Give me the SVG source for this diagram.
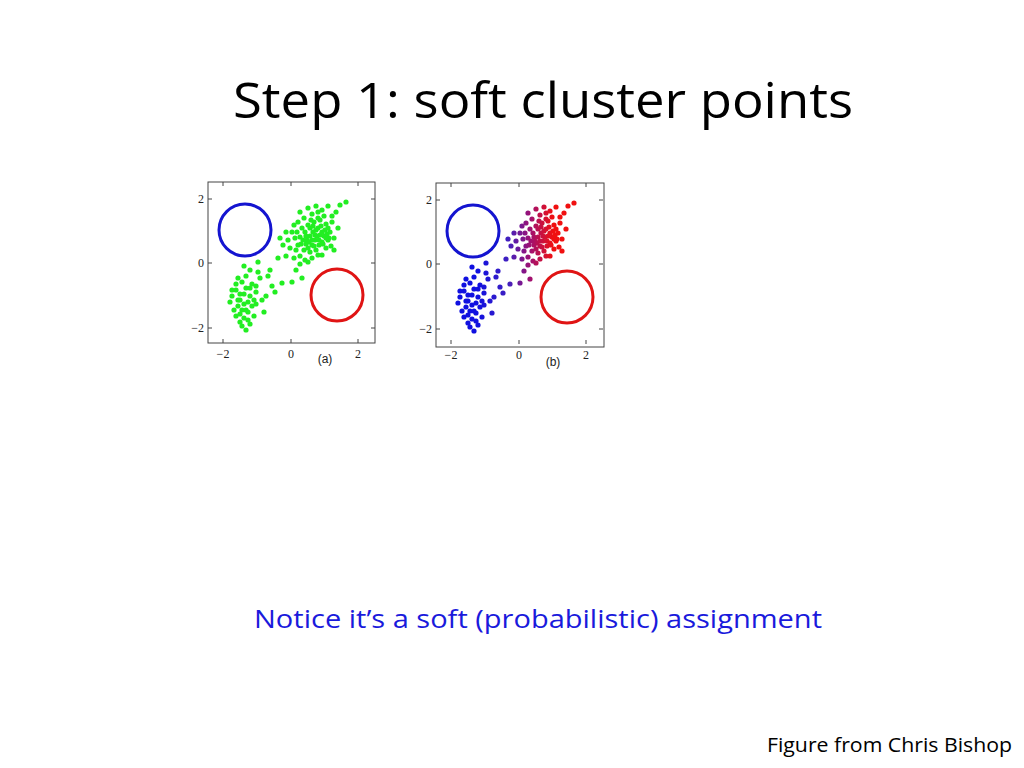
<svg xmlns="http://www.w3.org/2000/svg" xmlns:xlink="http://www.w3.org/1999/xlink" width="1024" height="768" viewBox="0 0 1024 768">
<style>
.frame{fill:none;stroke:#444;stroke-width:1}
.tk{stroke:#444;stroke-width:1}
.ax{font-family:"Liberation Serif",serif;font-size:12px;fill:#222}
.lb{font-family:"Liberation Sans",sans-serif;font-size:12px;fill:#222}
.pts circle{r:2.6}
</style>
<defs>
<linearGradient id="g" gradientUnits="userSpaceOnUse" x1="250" y1="0" x2="325" y2="0">
<stop offset="0" stop-color="#1010e0"/><stop offset="0.4" stop-color="#4020c0"/><stop offset="0.7" stop-color="#a01070"/><stop offset="1" stop-color="#f01010"/>
</linearGradient>
<g id="pts" class="pts">
<circle cx="300" cy="237"/><circle cx="305" cy="232"/><circle cx="310" cy="236"/><circle cx="315" cy="240"/><circle cx="320" cy="235"/><circle cx="318" cy="228"/><circle cx="325" cy="230"/><circle cx="322" cy="242"/><circle cx="312" cy="245"/><circle cx="306" cy="244"/><circle cx="298" cy="245"/><circle cx="295" cy="238"/><circle cx="302" cy="228"/><circle cx="308" cy="225"/><circle cx="314" cy="222"/><circle cx="320" cy="220"/><circle cx="326" cy="224"/><circle cx="330" cy="232"/><circle cx="328" cy="240"/><circle cx="316" cy="250"/><circle cx="310" cy="252"/><circle cx="304" cy="250"/><circle cx="296" cy="250"/><circle cx="290" cy="248"/><circle cx="288" cy="240"/><circle cx="292" cy="232"/><circle cx="298" cy="222"/><circle cx="304" cy="218"/><circle cx="312" cy="214"/><circle cx="318" cy="212"/><circle cx="324" cy="216"/><circle cx="332" cy="222"/><circle cx="334" cy="238"/><circle cx="326" cy="248"/><circle cx="318" cy="255"/><circle cx="300" cy="256"/><circle cx="294" cy="258"/><circle cx="286" cy="256"/><circle cx="283" cy="245"/><circle cx="308" cy="208"/><circle cx="316" cy="206"/><circle cx="322" cy="210"/><circle cx="336" cy="212"/><circle cx="340" cy="205"/><circle cx="328" cy="206"/><circle cx="346" cy="202"/><circle cx="300" cy="212"/><circle cx="294" cy="225"/><circle cx="286" cy="232"/><circle cx="307" cy="240"/><circle cx="313" cy="232"/><circle cx="319" cy="245"/><circle cx="324" cy="236"/><circle cx="310" cy="228"/><circle cx="303" cy="240"/><circle cx="297" cy="232"/><circle cx="321" cy="226"/><circle cx="329" cy="238"/><circle cx="331" cy="246"/><circle cx="315" cy="235"/><circle cx="300" cy="264"/><circle cx="296" cy="270"/><circle cx="302" cy="278"/><circle cx="292" cy="282"/><circle cx="308" cy="262"/><circle cx="322" cy="255"/><circle cx="334" cy="250"/><circle cx="338" cy="228"/><circle cx="305" cy="260"/><circle cx="312" cy="258"/><circle cx="280" cy="238"/><circle cx="278" cy="258"/>
<circle cx="312" cy="240"/><circle cx="317" cy="236"/><circle cx="322" cy="232"/><circle cx="316" cy="230"/><circle cx="309" cy="242"/><circle cx="326" cy="238"/><circle cx="313" cy="226"/><circle cx="319" cy="240"/><circle cx="323" cy="244"/><circle cx="311" cy="220"/><circle cx="306" cy="236"/><circle cx="328" cy="228"/><circle cx="318" cy="218"/><circle cx="308" cy="248"/><circle cx="301" cy="244"/><circle cx="332" cy="216"/><circle cx="314" cy="246"/><circle cx="327" cy="234"/>
<circle cx="232" cy="296"/><circle cx="236" cy="290"/><circle cx="240" cy="300"/><circle cx="244" cy="294"/><circle cx="248" cy="302"/><circle cx="242" cy="310"/><circle cx="238" cy="306"/><circle cx="236" cy="316"/><circle cx="240" cy="322"/><circle cx="244" cy="318"/><circle cx="248" cy="312"/><circle cx="252" cy="306"/><circle cx="250" cy="296"/><circle cx="246" cy="288"/><circle cx="242" cy="282"/><circle cx="238" cy="278"/><circle cx="246" cy="276"/><circle cx="252" cy="284"/><circle cx="256" cy="292"/><circle cx="256" cy="304"/><circle cx="254" cy="316"/><circle cx="250" cy="324"/><circle cx="246" cy="330"/><circle cx="242" cy="326"/><circle cx="234" cy="310"/><circle cx="230" cy="302"/><circle cx="244" cy="304"/><circle cx="240" cy="294"/><circle cx="248" cy="320"/><circle cx="256" cy="286"/><circle cx="260" cy="278"/><circle cx="262" cy="300"/><circle cx="266" cy="296"/><circle cx="264" cy="312"/><circle cx="250" cy="270"/><circle cx="258" cy="272"/><circle cx="244" cy="266"/><circle cx="236" cy="284"/><circle cx="232" cy="290"/><circle cx="254" cy="300"/><circle cx="238" cy="300"/><circle cx="250" cy="288"/><circle cx="240" cy="314"/><circle cx="246" cy="310"/>
<circle cx="272" cy="286"/><circle cx="268" cy="276"/><circle cx="282" cy="283"/><circle cx="275" cy="292"/><circle cx="258" cy="262"/><circle cx="270" cy="270"/>
</g>
<g id="axes">
<path class="tk" d="M223 343v-4M291 343v-4M358 343v-4M223 182v4M291 182v4M358 182v4M208 199h4M208 263h4M208 328h4M375 199h-4M375 263h-4M375 328h-4"/>
<text class="ax" x="223" y="358" text-anchor="middle">−2</text>
<text class="ax" x="291" y="358" text-anchor="middle">0</text>
<text class="ax" x="358" y="358" text-anchor="middle">2</text>
<text class="ax" x="204" y="203" text-anchor="end">2</text>
<text class="ax" x="204" y="267" text-anchor="end">0</text>
<text class="ax" x="204" y="332" text-anchor="end">−2</text>
</g>
</defs>
<text x="233" y="118" textLength="620" lengthAdjust="spacingAndGlyphs" font-family="Open Sans, sans-serif" font-size="50" fill="#000">Step 1: soft cluster points</text>
<g id="plot-a">
<rect class="frame" x="208" y="182" width="167" height="161"/>
<use xlink:href="#axes"/>
<use xlink:href="#pts" fill="#22ee22"/>
<circle cx="245" cy="230" r="26" fill="none" stroke="#1414d0" stroke-width="3"/>
<circle cx="337" cy="295" r="26" fill="none" stroke="#e01414" stroke-width="3"/>
<text class="lb" x="325" y="363" text-anchor="middle">(a)</text>
</g>
<g id="plot-b" transform="translate(228,1)">
<rect class="frame" x="208" y="182" width="168" height="164"/>
<use xlink:href="#axes"/>
<use xlink:href="#pts" fill="url(#g)"/>
<circle cx="245" cy="230" r="26" fill="none" stroke="#1414d0" stroke-width="3"/>
<circle cx="339" cy="296" r="26" fill="none" stroke="#e01414" stroke-width="3"/>
<text class="lb" x="325" y="365" text-anchor="middle">(b)</text>
</g>
<text x="254" y="628" textLength="568" lengthAdjust="spacingAndGlyphs" font-family="Open Sans, sans-serif" font-size="26" fill="#1a1adc">Notice it’s a soft (probabilistic) assignment</text>
<text x="767" y="752" textLength="245" lengthAdjust="spacingAndGlyphs" font-family="Open Sans, sans-serif" font-size="20" fill="#000">Figure from Chris Bishop</text>
</svg>
